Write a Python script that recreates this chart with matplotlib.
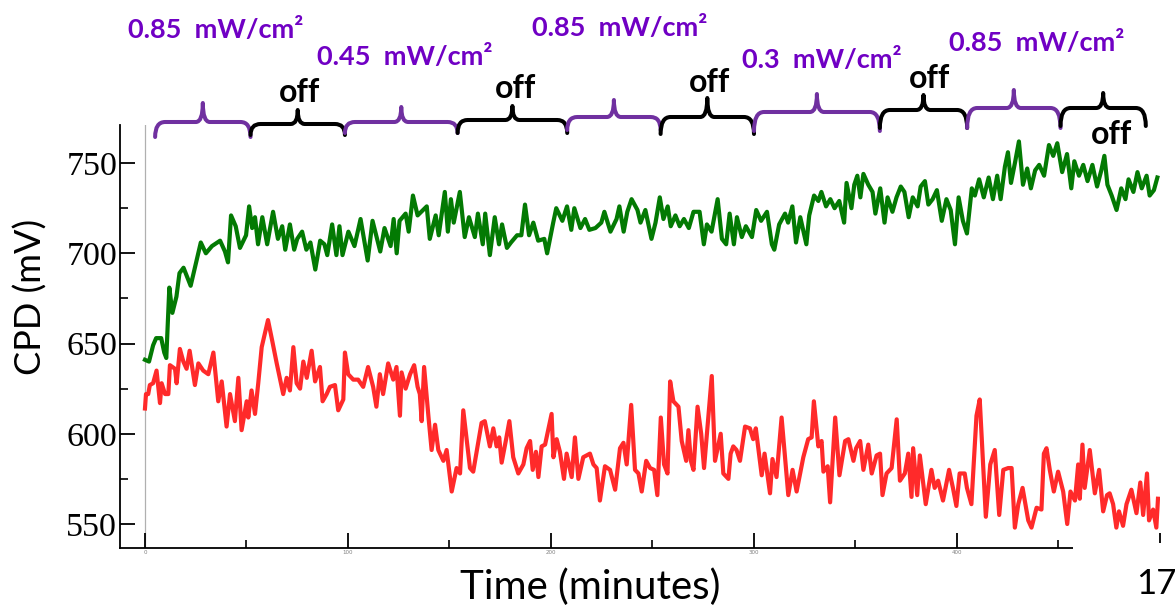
import matplotlib
matplotlib.use('Agg')
import matplotlib.pyplot as plt
from matplotlib.path import Path
from matplotlib.patches import PathPatch, Rectangle
from matplotlib.ticker import MultipleLocator

# ---------------- data (time in minutes, CPD in mV) ----------------
green_t = [0, 2, 4, 5.5, 8, 9.5, 10.5, 12, 13.5, 15.5, 17, 19, 22.5, 25, 27.5, 30, 33, 37,
           39.4, 40.9, 42.4, 44.7, 46.8, 49.8, 51.3, 52.8, 54.2, 55.7, 57.8, 60.2, 63.1, 65.5,
           67.6, 69.1, 71.4, 73.5, 75.0, 77.4, 79.5, 81.5, 83.9, 86.3, 88.4, 89.8, 92.2, 94.3,
           95.8, 97.3, 100.2, 103.2, 106.2, 109.7, 112.1, 115.9, 118.0, 121.0, 122.5, 124.0,
           125.4, 128.4, 129.9, 132.0, 134.3, 138.8, 140.3, 143.2, 144.7, 147.7, 149.2, 150.7,
           152.1, 155.1, 157.5, 159.6, 162.5, 164.0, 166.4, 167.6, 169.9, 172.3, 174.4, 175.9,
           178.3, 180.3, 183.3, 185.4, 187.2, 189.2, 191.3, 193.7, 196.7, 198.1, 201.1, 202.6,
           205.6, 207.9, 210.0, 211.5, 214.5, 216.8, 218.9, 221.9, 224.8, 226.3, 229.3, 232.3,
           233.7, 235.8, 237.6, 239.7, 242.6, 244.1, 246.5, 249.5, 251.5, 253.6, 255.4, 257.5,
           259.0, 261.3, 263.4, 265.5, 267.9, 270.2, 273.2, 275.3, 276.8, 279.1, 282.1, 284.2,
           286.3, 288.0, 290.1, 291.6, 294.0, 296.0, 299.0, 301.1, 303.5, 306.4, 308.8, 310.0,
           312.4, 315.3, 316.8, 318.9, 320.7, 322.8, 325.8, 327.2, 329.6, 331.7, 333.2, 335.5,
           337.6, 339.7, 342.0, 344.4, 345.6, 348.0, 349.4, 350.9, 352.4, 353.9, 356.3, 358.4,
           359.8, 362.2, 364.3, 365.8, 368.2, 370.2, 372.3, 374.1, 376.2, 378.2, 380.6, 382.1,
           384.2, 385.9, 388.0, 390.1, 392.5, 394.8, 396.9, 399.0, 400.8, 402.9, 404.9, 407.3,
           408.8, 410.9, 413.2, 415.6, 417.7, 419.8, 421.5, 423.6, 425.1, 426.6, 428.7, 430.5,
           432.5, 434.6, 436.4, 438.5, 440.5, 442.9, 445.3, 447.4, 449.4, 451.8, 454.2, 456.3,
           457.8, 460.1, 462.2, 464.3, 466.7, 469.0, 471.1, 472.6, 474.1, 476.2, 478.6, 480.9,
           483.0, 484.5, 486.9, 488.9, 491.0, 493.4, 494.9, 497.0, 498.7]
green_v = [641, 640, 649, 653, 653, 645, 642, 681, 667, 676, 689, 692, 682, 694, 706, 700, 704, 707,
           701, 695, 721, 715, 703, 710, 726, 714, 720, 705, 720, 705, 723, 708,
           715, 702, 716, 702, 708, 712, 702, 706, 691, 707, 705, 699, 716, 699,
           715, 699, 712, 704, 719, 696, 718, 701, 714, 704, 719, 700,
           718, 722, 712, 732, 721, 726, 708, 721, 710, 734, 712, 730,
           717, 734, 709, 720, 709, 722, 705, 722, 699, 720, 705, 716,
           703, 706, 710, 710, 727, 710, 717, 707, 708, 700, 717, 725,
           718, 726, 713, 725, 714, 719, 713, 714, 717, 723, 712, 719,
           726, 712, 723, 730, 724, 717, 724, 708, 717, 731, 719, 726,
           715, 721, 715, 719, 714, 723, 723, 705, 716, 712, 730, 708,
           705, 722, 705, 720, 709, 715, 709, 724, 718, 723, 705, 702,
           716, 722, 717, 726, 706, 720, 705, 721, 732, 729, 734, 726,
           730, 725, 729, 717, 739, 725, 738, 743, 731, 744, 738, 734,
           722, 736, 717, 731, 723, 731, 737, 734, 720, 731, 726, 737,
           740, 727, 730, 735, 718, 730, 724, 705, 731, 718, 711, 736,
           732, 741, 731, 742, 730, 743, 730, 748, 756, 739, 751, 762,
           738, 747, 736, 746, 749, 743, 760, 754, 761, 745, 755, 736,
           751, 743, 749, 740, 749, 737, 746, 754, 738, 732, 724, 736,
           730, 741, 734, 745, 736, 743, 732, 735, 742]

red_t = [0, 0.5, 1.6, 2.4, 4, 5.7, 7.4, 8.2, 9.9, 11.5, 12.3, 14.8, 15.6, 17.2, 18.9, 20.5, 22,
         24.6, 26.3, 28.7, 31.2, 33.7, 36.1, 37.8, 40.2, 41.9, 44.3, 46, 47.6, 50.1, 50.9, 52.5,
         54.2, 55.8, 57.5, 60.6, 62.6, 64.9, 68.1, 69.8, 71.4, 73.1, 74.7, 76.4, 78, 79.7, 82.1,
         83.8, 86.2, 87.5, 89.5, 91.1, 93.6, 95.2, 97.7, 98.5, 100.1, 102.6, 105, 107.5, 109.9,
         112.4, 114, 115.7, 117.3, 119.8, 122.3, 123.9, 125.6, 126.4, 128.4, 130.6, 132.6, 134.3,
         135.4, 136.3, 137.5, 139.6, 141.2, 142.9, 144.5, 147, 148.6, 151.1, 153.5, 155.2, 156.8,
         160.1, 161.7, 165.8, 167.4, 169.9, 171.6, 173.2, 174.5, 175.7, 177.9, 179.5, 181.4,
         183.9, 186.4, 188, 189.7, 191, 192.6, 193.8, 195.4, 197.1, 200.3, 201.2, 202.8, 204.4,
         206.4, 207.7, 210.2, 211.8, 213.5, 215.9, 219.2, 220.9, 222.5, 224.1, 226.6, 229.1,
         231.6, 234, 235.7, 237.3, 239.5, 241.4, 243.1, 244.7, 246.9, 248.8, 250.8, 252.4, 254.1,
         255.7, 257.4, 258.7, 260.3, 262.8, 264.4, 266.6, 267.7, 268.9, 270.2, 272.2, 274, 275.4,
         279.2, 280.8, 283.6, 284.9, 287.4, 288.5, 289.8, 291.4, 293.1, 295.6, 298, 299.6, 300.9,
         303.8, 305.2, 307.9, 309.1, 311.1, 313.6, 316.9, 319, 321, 324.3, 326.7, 328.4, 329.5,
         331.7, 333.3, 334.2, 336.3, 337.5, 340, 342.1, 344.9, 346.5, 349, 350.3, 352.3, 353.9,
         356.3, 358, 360.4, 362.1, 363.3, 365.3, 367.8, 370.3, 371.9, 374.3, 376, 377.6, 378.4,
         380.4, 381.7, 384.6, 387.4, 389, 390.7, 393.1, 396.1, 398, 399.7, 401.3, 403.8, 404.9,
         407.1, 409.6, 411.2, 414.2, 416.4, 418.6, 420.8, 422.8, 425.2, 426.9, 428.5, 430.2,
         432.3, 435.1, 436.7, 439.2, 441.6, 442.8, 444.1, 445.7, 447.7, 449.8, 452.3, 454.3,
         455.9, 458.1, 459.7, 460.5, 461.8, 462.9, 465.4, 467.9, 470, 472, 473.9, 475.2, 476.9,
         478.5, 479.8, 481.8, 483.5, 485.9, 488.4, 490.3, 491.7, 493.6, 494.6, 496.6, 498.2, 499]
red_v = [614, 622, 622, 627, 628, 635, 617, 628, 622, 622, 638, 636, 628, 647, 640, 636, 646,
         627, 639, 635, 633, 645, 618, 629, 604, 622, 607, 631, 602, 618, 609, 624,
         611, 628, 648, 663, 652, 639, 622, 631, 624, 648, 628, 625, 640, 631, 646,
         629, 637, 618, 622, 626, 627, 613, 619, 645, 633, 630, 630, 626, 637,
         626, 615, 633, 622, 639, 630, 637, 610, 634, 625, 633, 638, 626,
         622, 607, 637, 610, 591, 605, 591, 585, 591, 568, 581, 578, 613,
         581, 579, 606, 607, 593, 603, 593, 598, 584, 597, 607, 587,
         578, 583, 592, 596, 580, 590, 576, 593, 594, 611, 587, 597, 590,
         575, 589, 576, 598, 575, 587, 589, 583, 581, 563, 582, 580,
         569, 592, 595, 583, 616, 580, 578, 568, 585, 581, 580, 566, 609,
         583, 578, 629, 618, 615, 596, 585, 602, 585, 580, 615, 600, 581,
         632, 585, 600, 578, 575, 589, 593, 591, 585, 604, 603, 597, 603,
         577, 589, 567, 586, 576, 609, 566, 580, 568, 587, 597, 598, 618,
         593, 596, 579, 582, 562, 609, 577, 596, 597, 585, 592, 596, 580,
         594, 578, 588, 589, 566, 578, 581, 608, 574, 578, 589, 565, 592,
         566, 588, 561, 580, 570, 574, 563, 580, 570, 560, 578, 578, 570,
         561, 610, 619, 554, 583, 591, 555, 580, 581, 581, 548, 561,
         570, 552, 548, 559, 558, 589, 592, 580, 568, 579, 568, 550,
         568, 563, 583, 564, 594, 570, 591, 567, 580, 557, 566, 567, 561,
         548, 557, 549, 561, 569, 556, 573, 555, 578, 552, 558, 548, 564]

# illumination periods (minutes) and their labels
period_edges = [5, 52, 98.5, 154, 208, 254, 300, 362, 405, 451, 493]
period_on = [True, False, True, False, True, False, True, False, True, False]
intensity_labels = ["0.85  mW/cm\u00b2", "0.45  mW/cm\u00b2", "0.85  mW/cm\u00b2",
                    "0.3  mW/cm\u00b2", "0.85  mW/cm\u00b2"]
off_label = "off"

y_ticks = [550, 600, 650, 700, 750]
x_ticks = [0, 100, 200, 300, 400, 500]

# ---------------- figure ----------------
W, H = 1176, 610
fig = plt.figure(figsize=(W / 100, H / 100), dpi=100)
ax = fig.add_axes([120 / W, 62 / H, 1040 / W, 423 / H])
ax.set_xlim(-12.3, 500)
ax.set_ylim(536.7, 771.1)

ax.axvline(0, color='#b0b0b0', lw=0.9, zorder=1)
ax.plot(green_t, green_v, color='#037a03', lw=3.0, solid_joinstyle='round', zorder=3)
ax.plot(red_t, red_v, color='#ff2a2a', lw=3.0, solid_joinstyle='round', zorder=3)

for s in ['top', 'right']:
    ax.spines[s].set_visible(False)
for s in ['left', 'bottom']:
    ax.spines[s].set_linewidth(1.3)

ax.set_yticks(y_ticks)
ax.set_xticks(x_ticks)
ax.xaxis.set_minor_locator(MultipleLocator(50))
ax.yaxis.set_minor_locator(MultipleLocator(25))
ax.tick_params(which='major', direction='in', length=11, width=1.3)
ax.tick_params(which='minor', direction='in', length=5.5, width=1.2)
ax.tick_params(axis='y', which='major', pad=2, labelsize=24.5)
ax.tick_params(axis='x', which='major', pad=1.5, labelsize=4, labelcolor='#808080')
for lab in ax.get_yticklabels():
    lab.set_fontfamily('Liberation Serif')

fig.text(31 / W, 1 - 297 / H, 'CPD (mV)', family='Lato', fontsize=26,
         rotation=90, ha='center', va='center')
fig.text(590 / W, 1 - 587 / H, 'Time (minutes)', family='Lato', fontsize=29,
         ha='center', va='center')

# white box that hides the far end of the time axis (slide number area)
fig.patches.append(Rectangle((1073 / W, 0), (W - 1073) / W, (H - 543) / H,
                             transform=fig.transFigure, facecolor='white',
                             edgecolor='none', zorder=10))
fig.text(1156 / W, 1 - 584 / H, '17', family='Lato', fontsize=25,
         ha='center', va='center', zorder=11)

# ---------------- braces overlay (pixel coords, y down) ----------------
ov = fig.add_axes([0, 0, 1, 1])
ov.set_xlim(0, W)
ov.set_ylim(H, 0)
ov.axis('off')
ov.patch.set_alpha(0)


def tx(t):
    return ax.transData.transform((t, 600))[0]


def brace(x0, x1, yb, yl, yt, color):
    xm = 0.5 * (x0 + x1)
    r, r2 = 10, 7
    verts = [(x0, yb), (x0, yl), (x0 + r, yl),
             (xm - r2, yl),
             (xm, yl), (xm, yt),
             (xm, yl), (xm + r2, yl),
             (x1 - r, yl),
             (x1, yl), (x1, yb)]
    codes = [Path.MOVETO, Path.CURVE3, Path.CURVE3,
             Path.LINETO,
             Path.CURVE3, Path.CURVE3,
             Path.CURVE3, Path.CURVE3,
             Path.LINETO,
             Path.CURVE3, Path.CURVE3]
    ov.add_patch(PathPatch(Path(verts, codes), facecolor='none', edgecolor=color,
                           lw=2.9, capstyle='round', joinstyle='round'))
    return xm


brace_y = [(137, 122, 103), (135, 124, 110), (133, 122, 107), (133, 120, 106),
           (130, 117, 100), (134, 117, 98), (131, 112, 94), (128, 110, 95),
           (128, 108, 90), (126, 108, 93)]
purple_brace = '#7030a0'
purple_text = '#7000c4'
lab_pos = [(216, 30), (405, 57), (620, 28), (822, 60), (1037, 43)]
off_pos = [(300, 93), (515, 89), (709, 82), (929, 78), (1111, 134)]

on_i = off_i = 0
for i in range(len(period_on)):
    x0, x1 = tx(period_edges[i]), tx(period_edges[i + 1])
    yb, yl, yt = brace_y[i]
    if period_on[i]:
        brace(x0, x1, yb, yl, yt, purple_brace)
        px, py = lab_pos[on_i]
        ov.text(px, py, intensity_labels[on_i], family='Lato', fontweight='bold',
                fontsize=19.5, color=purple_text, ha='center', va='center')
        on_i += 1
    else:
        brace(x0, x1, yb, yl, yt, 'black')
        px, py = off_pos[off_i]
        ov.text(px, py, off_label, family='Lato', fontweight='bold',
                fontsize=23, color='black', ha='center', va='center')
        off_i += 1

fig.savefig('out.png', dpi=100)
